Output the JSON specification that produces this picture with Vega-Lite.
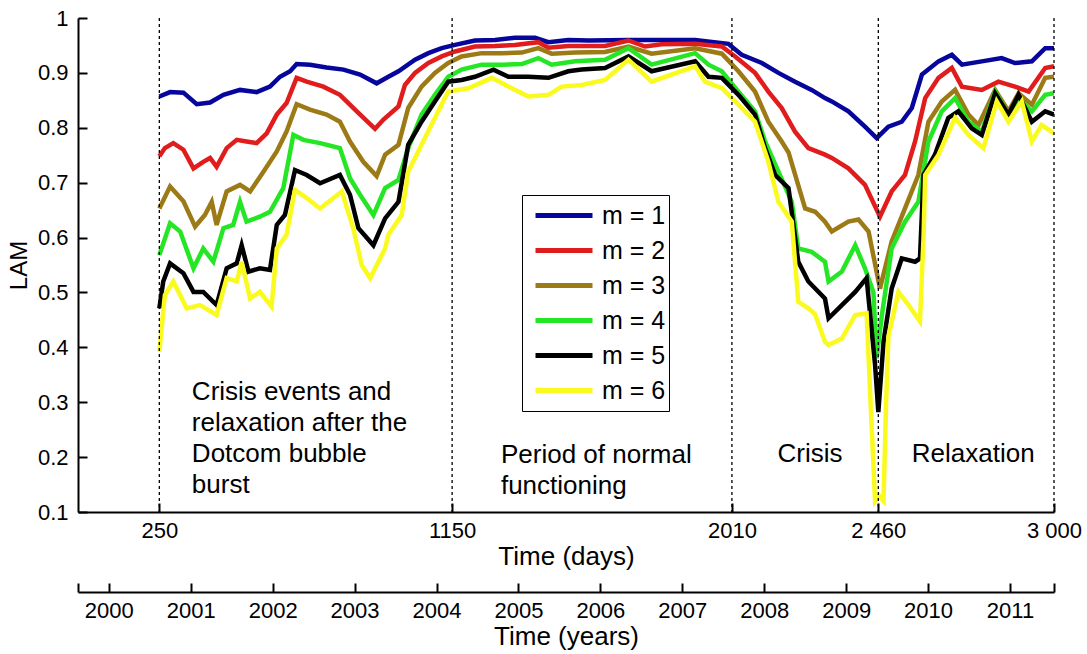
{
"$schema":"https://vega.github.io/schema/vega-lite/v6.json",
"width":976,"height":494,
"autosize":{"type":"none"},
"padding":{"left":78,"top":18,"right":33,"bottom":142},
"background":"white",
"config":{"view":{"stroke":null},"font":"Liberation Sans",
"axis":{"grid":false,"domainColor":"black","tickColor":"black","labelColor":"black","titleColor":"black","labelFont":"Liberation Sans","titleFont":"Liberation Sans","titleFontWeight":"normal","domainWidth":2,"tickWidth":2,"labelFontSize":22,"titleFontSize":26,"labelFlush":false,"labelOverlap":false}},
"datasets":{
"lam":[
{"day":250,"m":1,"lam":0.857},{"day":283,"m":1,"lam":0.865},{"day":324,"m":1,"lam":0.864},{"day":365,"m":1,"lam":0.843},{"day":406,"m":1,"lam":0.846},{"day":447,"m":1,"lam":0.86},{"day":498,"m":1,"lam":0.869},{"day":549,"m":1,"lam":0.865},{"day":590,"m":1,"lam":0.875},{"day":621,"m":1,"lam":0.893},{"day":652,"m":1,"lam":0.903},{"day":672,"m":1,"lam":0.916},{"day":713,"m":1,"lam":0.915},{"day":764,"m":1,"lam":0.91},{"day":816,"m":1,"lam":0.906},{"day":867,"m":1,"lam":0.897},{"day":918,"m":1,"lam":0.881},{"day":954,"m":1,"lam":0.893},{"day":985,"m":1,"lam":0.903},{"day":1036,"m":1,"lam":0.924},{"day":1077,"m":1,"lam":0.936},{"day":1118,"m":1,"lam":0.945},{"day":1159,"m":1,"lam":0.951},{"day":1220,"m":1,"lam":0.959},{"day":1282,"m":1,"lam":0.96},{"day":1343,"m":1,"lam":0.964},{"day":1405,"m":1,"lam":0.964},{"day":1446,"m":1,"lam":0.956},{"day":1507,"m":1,"lam":0.96},{"day":1569,"m":1,"lam":0.959},{"day":1692,"m":1,"lam":0.96},{"day":1794,"m":1,"lam":0.96},{"day":1897,"m":1,"lam":0.96},{"day":1999,"m":1,"lam":0.953},{"day":2040,"m":1,"lam":0.933},{"day":2102,"m":1,"lam":0.918},{"day":2153,"m":1,"lam":0.9},{"day":2204,"m":1,"lam":0.884},{"day":2255,"m":1,"lam":0.869},{"day":2296,"m":1,"lam":0.854},{"day":2317,"m":1,"lam":0.848},{"day":2368,"m":1,"lam":0.83},{"day":2419,"m":1,"lam":0.802},{"day":2455,"m":1,"lam":0.781},{"day":2491,"m":1,"lam":0.802},{"day":2532,"m":1,"lam":0.811},{"day":2563,"m":1,"lam":0.836},{"day":2594,"m":1,"lam":0.897},{"day":2645,"m":1,"lam":0.921},{"day":2686,"m":1,"lam":0.933},{"day":2717,"m":1,"lam":0.915},{"day":2778,"m":1,"lam":0.921},{"day":2839,"m":1,"lam":0.927},{"day":2880,"m":1,"lam":0.918},{"day":2932,"m":1,"lam":0.921},{"day":2973,"m":1,"lam":0.945},{"day":3000,"m":1,"lam":0.945},
{"day":250,"m":2,"lam":0.748},{"day":267,"m":2,"lam":0.763},{"day":293,"m":2,"lam":0.772},{"day":324,"m":2,"lam":0.76},{"day":355,"m":2,"lam":0.726},{"day":385,"m":2,"lam":0.738},{"day":406,"m":2,"lam":0.745},{"day":426,"m":2,"lam":0.729},{"day":457,"m":2,"lam":0.763},{"day":488,"m":2,"lam":0.778},{"day":518,"m":2,"lam":0.775},{"day":549,"m":2,"lam":0.772},{"day":580,"m":2,"lam":0.79},{"day":611,"m":2,"lam":0.824},{"day":641,"m":2,"lam":0.845},{"day":672,"m":2,"lam":0.891},{"day":703,"m":2,"lam":0.884},{"day":754,"m":2,"lam":0.875},{"day":805,"m":2,"lam":0.86},{"day":857,"m":2,"lam":0.83},{"day":913,"m":2,"lam":0.798},{"day":939,"m":2,"lam":0.815},{"day":985,"m":2,"lam":0.839},{"day":1005,"m":2,"lam":0.878},{"day":1036,"m":2,"lam":0.9},{"day":1077,"m":2,"lam":0.918},{"day":1118,"m":2,"lam":0.93},{"day":1159,"m":2,"lam":0.939},{"day":1220,"m":2,"lam":0.948},{"day":1282,"m":2,"lam":0.949},{"day":1343,"m":2,"lam":0.951},{"day":1415,"m":2,"lam":0.956},{"day":1446,"m":2,"lam":0.946},{"day":1507,"m":2,"lam":0.949},{"day":1620,"m":2,"lam":0.949},{"day":1692,"m":2,"lam":0.959},{"day":1743,"m":2,"lam":0.948},{"day":1794,"m":2,"lam":0.952},{"day":1897,"m":2,"lam":0.953},{"day":1979,"m":2,"lam":0.948},{"day":2020,"m":2,"lam":0.93},{"day":2081,"m":2,"lam":0.9},{"day":2122,"m":2,"lam":0.866},{"day":2163,"m":2,"lam":0.836},{"day":2204,"m":2,"lam":0.793},{"day":2245,"m":2,"lam":0.763},{"day":2296,"m":2,"lam":0.751},{"day":2317,"m":2,"lam":0.745},{"day":2368,"m":2,"lam":0.726},{"day":2419,"m":2,"lam":0.696},{"day":2465,"m":2,"lam":0.638},{"day":2501,"m":2,"lam":0.684},{"day":2542,"m":2,"lam":0.714},{"day":2573,"m":2,"lam":0.775},{"day":2604,"m":2,"lam":0.854},{"day":2645,"m":2,"lam":0.891},{"day":2686,"m":2,"lam":0.909},{"day":2717,"m":2,"lam":0.875},{"day":2778,"m":2,"lam":0.869},{"day":2829,"m":2,"lam":0.884},{"day":2880,"m":2,"lam":0.875},{"day":2922,"m":2,"lam":0.866},{"day":2973,"m":2,"lam":0.909},{"day":3000,"m":2,"lam":0.912},
{"day":250,"m":3,"lam":0.653},{"day":283,"m":3,"lam":0.693},{"day":324,"m":3,"lam":0.666},{"day":360,"m":3,"lam":0.62},{"day":390,"m":3,"lam":0.641},{"day":411,"m":3,"lam":0.665},{"day":426,"m":3,"lam":0.623},{"day":457,"m":3,"lam":0.684},{"day":498,"m":3,"lam":0.696},{"day":529,"m":3,"lam":0.684},{"day":570,"m":3,"lam":0.72},{"day":611,"m":3,"lam":0.757},{"day":641,"m":3,"lam":0.793},{"day":672,"m":3,"lam":0.843},{"day":713,"m":3,"lam":0.833},{"day":764,"m":3,"lam":0.824},{"day":805,"m":3,"lam":0.811},{"day":836,"m":3,"lam":0.775},{"day":877,"m":3,"lam":0.738},{"day":918,"m":3,"lam":0.712},{"day":944,"m":3,"lam":0.751},{"day":985,"m":3,"lam":0.769},{"day":1015,"m":3,"lam":0.836},{"day":1056,"m":3,"lam":0.875},{"day":1097,"m":3,"lam":0.9},{"day":1138,"m":3,"lam":0.918},{"day":1179,"m":3,"lam":0.93},{"day":1241,"m":3,"lam":0.936},{"day":1302,"m":3,"lam":0.936},{"day":1364,"m":3,"lam":0.937},{"day":1415,"m":3,"lam":0.945},{"day":1456,"m":3,"lam":0.935},{"day":1528,"m":3,"lam":0.937},{"day":1620,"m":3,"lam":0.938},{"day":1692,"m":3,"lam":0.948},{"day":1763,"m":3,"lam":0.935},{"day":1897,"m":3,"lam":0.945},{"day":1979,"m":3,"lam":0.935},{"day":2030,"m":3,"lam":0.903},{"day":2081,"m":3,"lam":0.866},{"day":2122,"m":3,"lam":0.811},{"day":2163,"m":3,"lam":0.775},{"day":2184,"m":3,"lam":0.755},{"day":2204,"m":3,"lam":0.715},{"day":2235,"m":3,"lam":0.653},{"day":2266,"m":3,"lam":0.647},{"day":2296,"m":3,"lam":0.629},{"day":2317,"m":3,"lam":0.611},{"day":2368,"m":3,"lam":0.629},{"day":2399,"m":3,"lam":0.633},{"day":2430,"m":3,"lam":0.611},{"day":2465,"m":3,"lam":0.507},{"day":2501,"m":3,"lam":0.593},{"day":2542,"m":3,"lam":0.653},{"day":2583,"m":3,"lam":0.714},{"day":2614,"m":3,"lam":0.811},{"day":2655,"m":3,"lam":0.848},{"day":2696,"m":3,"lam":0.869},{"day":2737,"m":3,"lam":0.824},{"day":2768,"m":3,"lam":0.805},{"day":2819,"m":3,"lam":0.869},{"day":2860,"m":3,"lam":0.83},{"day":2891,"m":3,"lam":0.863},{"day":2932,"m":3,"lam":0.842},{"day":2973,"m":3,"lam":0.891},{"day":3000,"m":3,"lam":0.893},
{"day":250,"m":4,"lam":0.568},{"day":283,"m":4,"lam":0.626},{"day":314,"m":4,"lam":0.611},{"day":355,"m":4,"lam":0.544},{"day":385,"m":4,"lam":0.58},{"day":416,"m":4,"lam":0.556},{"day":447,"m":4,"lam":0.617},{"day":477,"m":4,"lam":0.623},{"day":498,"m":4,"lam":0.665},{"day":518,"m":4,"lam":0.629},{"day":559,"m":4,"lam":0.638},{"day":590,"m":4,"lam":0.647},{"day":631,"m":4,"lam":0.69},{"day":662,"m":4,"lam":0.787},{"day":693,"m":4,"lam":0.778},{"day":744,"m":4,"lam":0.772},{"day":805,"m":4,"lam":0.763},{"day":836,"m":4,"lam":0.708},{"day":867,"m":4,"lam":0.678},{"day":908,"m":4,"lam":0.641},{"day":944,"m":4,"lam":0.69},{"day":985,"m":4,"lam":0.705},{"day":1015,"m":4,"lam":0.763},{"day":1056,"m":4,"lam":0.824},{"day":1097,"m":4,"lam":0.86},{"day":1138,"m":4,"lam":0.893},{"day":1179,"m":4,"lam":0.906},{"day":1241,"m":4,"lam":0.915},{"day":1302,"m":4,"lam":0.915},{"day":1364,"m":4,"lam":0.916},{"day":1415,"m":4,"lam":0.927},{"day":1456,"m":4,"lam":0.915},{"day":1528,"m":4,"lam":0.921},{"day":1620,"m":4,"lam":0.924},{"day":1692,"m":4,"lam":0.945},{"day":1763,"m":4,"lam":0.915},{"day":1897,"m":4,"lam":0.936},{"day":1938,"m":4,"lam":0.915},{"day":1979,"m":4,"lam":0.903},{"day":2030,"m":4,"lam":0.866},{"day":2081,"m":4,"lam":0.83},{"day":2112,"m":4,"lam":0.775},{"day":2153,"m":4,"lam":0.72},{"day":2194,"m":4,"lam":0.665},{"day":2214,"m":4,"lam":0.58},{"day":2255,"m":4,"lam":0.574},{"day":2296,"m":4,"lam":0.556},{"day":2307,"m":4,"lam":0.52},{"day":2348,"m":4,"lam":0.538},{"day":2389,"m":4,"lam":0.586},{"day":2419,"m":4,"lam":0.544},{"day":2445,"m":4,"lam":0.5},{"day":2455,"m":4,"lam":0.38},{"day":2471,"m":4,"lam":0.459},{"day":2501,"m":4,"lam":0.58},{"day":2542,"m":4,"lam":0.629},{"day":2583,"m":4,"lam":0.665},{"day":2614,"m":4,"lam":0.775},{"day":2655,"m":4,"lam":0.83},{"day":2696,"m":4,"lam":0.854},{"day":2737,"m":4,"lam":0.811},{"day":2778,"m":4,"lam":0.793},{"day":2819,"m":4,"lam":0.866},{"day":2860,"m":4,"lam":0.824},{"day":2891,"m":4,"lam":0.854},{"day":2932,"m":4,"lam":0.83},{"day":2973,"m":4,"lam":0.86},{"day":3000,"m":4,"lam":0.863},
{"day":250,"m":5,"lam":0.471},{"day":262,"m":5,"lam":0.52},{"day":283,"m":5,"lam":0.553},{"day":324,"m":5,"lam":0.535},{"day":355,"m":5,"lam":0.501},{"day":385,"m":5,"lam":0.501},{"day":426,"m":5,"lam":0.477},{"day":457,"m":5,"lam":0.544},{"day":488,"m":5,"lam":0.553},{"day":503,"m":5,"lam":0.586},{"day":524,"m":5,"lam":0.538},{"day":559,"m":5,"lam":0.544},{"day":590,"m":5,"lam":0.541},{"day":611,"m":5,"lam":0.623},{"day":636,"m":5,"lam":0.641},{"day":667,"m":5,"lam":0.723},{"day":703,"m":5,"lam":0.714},{"day":744,"m":5,"lam":0.699},{"day":805,"m":5,"lam":0.714},{"day":836,"m":5,"lam":0.678},{"day":862,"m":5,"lam":0.617},{"day":908,"m":5,"lam":0.586},{"day":944,"m":5,"lam":0.635},{"day":985,"m":5,"lam":0.665},{"day":1015,"m":5,"lam":0.769},{"day":1056,"m":5,"lam":0.811},{"day":1097,"m":5,"lam":0.848},{"day":1138,"m":5,"lam":0.884},{"day":1179,"m":5,"lam":0.887},{"day":1220,"m":5,"lam":0.893},{"day":1277,"m":5,"lam":0.906},{"day":1323,"m":5,"lam":0.893},{"day":1384,"m":5,"lam":0.893},{"day":1446,"m":5,"lam":0.891},{"day":1507,"m":5,"lam":0.903},{"day":1548,"m":5,"lam":0.906},{"day":1620,"m":5,"lam":0.909},{"day":1692,"m":5,"lam":0.93},{"day":1763,"m":5,"lam":0.903},{"day":1897,"m":5,"lam":0.921},{"day":1938,"m":5,"lam":0.893},{"day":1979,"m":5,"lam":0.891},{"day":2030,"m":5,"lam":0.86},{"day":2081,"m":5,"lam":0.824},{"day":2112,"m":5,"lam":0.763},{"day":2143,"m":5,"lam":0.714},{"day":2184,"m":5,"lam":0.69},{"day":2214,"m":5,"lam":0.556},{"day":2245,"m":5,"lam":0.52},{"day":2296,"m":5,"lam":0.489},{"day":2307,"m":5,"lam":0.453},{"day":2348,"m":5,"lam":0.477},{"day":2389,"m":5,"lam":0.501},{"day":2424,"m":5,"lam":0.526},{"day":2450,"m":5,"lam":0.368},{"day":2460,"m":5,"lam":0.282},{"day":2476,"m":5,"lam":0.41},{"day":2501,"m":5,"lam":0.507},{"day":2532,"m":5,"lam":0.562},{"day":2573,"m":5,"lam":0.556},{"day":2588,"m":5,"lam":0.562},{"day":2599,"m":5,"lam":0.714},{"day":2634,"m":5,"lam":0.751},{"day":2675,"m":5,"lam":0.818},{"day":2706,"m":5,"lam":0.83},{"day":2747,"m":5,"lam":0.799},{"day":2778,"m":5,"lam":0.787},{"day":2819,"m":5,"lam":0.863},{"day":2860,"m":5,"lam":0.824},{"day":2891,"m":5,"lam":0.86},{"day":2932,"m":5,"lam":0.811},{"day":2973,"m":5,"lam":0.83},{"day":3000,"m":5,"lam":0.824},
{"day":250,"m":6,"lam":0.392},{"day":267,"m":6,"lam":0.495},{"day":293,"m":6,"lam":0.52},{"day":334,"m":6,"lam":0.471},{"day":375,"m":6,"lam":0.477},{"day":426,"m":6,"lam":0.459},{"day":457,"m":6,"lam":0.526},{"day":488,"m":6,"lam":0.52},{"day":503,"m":6,"lam":0.556},{"day":529,"m":6,"lam":0.489},{"day":559,"m":6,"lam":0.501},{"day":595,"m":6,"lam":0.474},{"day":611,"m":6,"lam":0.58},{"day":641,"m":6,"lam":0.605},{"day":667,"m":6,"lam":0.687},{"day":703,"m":6,"lam":0.672},{"day":744,"m":6,"lam":0.653},{"day":811,"m":6,"lam":0.684},{"day":846,"m":6,"lam":0.617},{"day":872,"m":6,"lam":0.55},{"day":898,"m":6,"lam":0.526},{"day":944,"m":6,"lam":0.58},{"day":954,"m":6,"lam":0.605},{"day":995,"m":6,"lam":0.641},{"day":1015,"m":6,"lam":0.72},{"day":1056,"m":6,"lam":0.769},{"day":1097,"m":6,"lam":0.818},{"day":1138,"m":6,"lam":0.866},{"day":1200,"m":6,"lam":0.872},{"day":1272,"m":6,"lam":0.891},{"day":1323,"m":6,"lam":0.875},{"day":1384,"m":6,"lam":0.857},{"day":1446,"m":6,"lam":0.86},{"day":1487,"m":6,"lam":0.875},{"day":1548,"m":6,"lam":0.878},{"day":1620,"m":6,"lam":0.887},{"day":1692,"m":6,"lam":0.924},{"day":1763,"m":6,"lam":0.884},{"day":1897,"m":6,"lam":0.912},{"day":1927,"m":6,"lam":0.884},{"day":1979,"m":6,"lam":0.872},{"day":2020,"m":6,"lam":0.848},{"day":2081,"m":6,"lam":0.811},{"day":2122,"m":6,"lam":0.738},{"day":2153,"m":6,"lam":0.665},{"day":2194,"m":6,"lam":0.629},{"day":2214,"m":6,"lam":0.483},{"day":2245,"m":6,"lam":0.471},{"day":2266,"m":6,"lam":0.46},{"day":2296,"m":6,"lam":0.41},{"day":2307,"m":6,"lam":0.404},{"day":2348,"m":6,"lam":0.416},{"day":2389,"m":6,"lam":0.459},{"day":2424,"m":6,"lam":0.462},{"day":2440,"m":6,"lam":0.25},{"day":2450,"m":6,"lam":0.12},{"day":2462,"m":6,"lam":0.13},{"day":2476,"m":6,"lam":0.12},{"day":2484,"m":6,"lam":0.3},{"day":2491,"m":6,"lam":0.42},{"day":2522,"m":6,"lam":0.501},{"day":2553,"m":6,"lam":0.477},{"day":2588,"m":6,"lam":0.447},{"day":2599,"m":6,"lam":0.6},{"day":2604,"m":6,"lam":0.714},{"day":2645,"m":6,"lam":0.751},{"day":2696,"m":6,"lam":0.818},{"day":2737,"m":6,"lam":0.787},{"day":2783,"m":6,"lam":0.763},{"day":2824,"m":6,"lam":0.848},{"day":2860,"m":6,"lam":0.811},{"day":2901,"m":6,"lam":0.848},{"day":2932,"m":6,"lam":0.775},{"day":2962,"m":6,"lam":0.805},{"day":3000,"m":6,"lam":0.79}
],
"phases":[{"day":250},{"day":1150},{"day":2010},{"day":2460},{"day":3000}],
"notes":[
{"day":350,"lam":0.304,"label":"Crisis events and\nrelaxation after the\nDotcom bubble\nburst"},
{"day":1300,"lam":0.189,"label":"Period of normal\nfunctioning"},
{"day":2150,"lam":0.191,"label":"Crisis"},
{"day":2563,"lam":0.191,"label":"Relaxation"}
],
"years":[{"year":2000},{"year":2001},{"year":2002},{"year":2003},{"year":2004},{"year":2005},{"year":2006},{"year":2007},{"year":2008},{"year":2009},{"year":2010},{"year":2011}]
},
"layer":[
{"layer":[
{"data":{"name":"lam"},"mark":{"type":"line","strokeWidth":4.5,"clip":true},
"encoding":{
"x":{"field":"day","type":"quantitative","scale":{"domain":[0,3000],"nice":false,"zero":false},
"axis":{"title":"Time (days)","values":[250,1150,2010,2460,3000],"tickSize":-9,"labelPadding":17,"titlePadding":2,
"labelExpr":"datum.value == 2460 ? '2 460' : datum.value == 3000 ? '3 000' : '' + datum.value"}},
"y":{"field":"lam","type":"quantitative","scale":{"domain":[0.1,1],"nice":false,"zero":false},
"axis":{"title":"LAM","values":[0.1,0.2,0.3,0.4,0.5,0.6,0.7,0.8,0.9,1],"format":".1~f","tickSize":-9,"labelPadding":19,"titlePadding":6,"titleFontSize":24}},
"color":{"field":"m","type":"nominal","scale":{"domain":[1,2,3,4,5,6],"range":["#06069c","#e01c1c","#9c7a16","#24e624","#000000","#fafa1e"]},
"legend":{"orient":"none","legendX":444,"legendY":177,"title":null,"symbolType":"stroke","symbolSize":3249,"symbolStrokeWidth":5,"clipHeight":35,"rowPadding":0,"labelFontSize":25,"labelFont":"Liberation Sans","labelColor":"black","labelOffset":7,"padding":3,"symbolOffset":8,"strokeColor":"black","fillColor":"white","labelExpr":"'m = ' + datum.label"}}
}},
{"data":{"name":"phases"},"mark":{"type":"rule","strokeDash":[3,3],"strokeWidth":1.3,"color":"black"},
"encoding":{"x":{"field":"day","type":"quantitative"}}},
{"data":{"name":"notes"},"mark":{"type":"text","align":"left","baseline":"alphabetic","fontSize":26,"lineBreak":"\n","lineHeight":31,"font":"Liberation Sans","color":"black"},
"encoding":{"x":{"field":"day","type":"quantitative"},"y":{"field":"lam","type":"quantitative"},"text":{"field":"label","type":"nominal"}}}
]},
{"data":{"name":"years"},"mark":{"type":"tick","opacity":0},
"encoding":{"x":{"field":"year","type":"quantitative","scale":{"domain":[1999.624,2011.537],"nice":false,"zero":false},
"axis":{"orient":"bottom","offset":80,"title":"Time (years)","values":[1999.624,2000,2001,2002,2003,2004,2005,2006,2007,2008,2009,2010,2011,2011.537],"tickSize":-9,"labelPadding":17,"titlePadding":2,
"labelExpr":"datum.value % 1 == 0 ? '' + datum.value : ''"}}}}
],
"resolve":{"scale":{"x":"independent"},"axis":{"x":"independent"}}
}
